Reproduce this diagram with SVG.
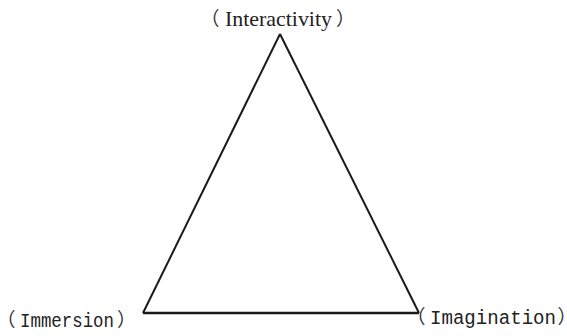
<svg xmlns="http://www.w3.org/2000/svg" width="567" height="336" viewBox="0 0 567 336">
<style>
.edge{fill:none;stroke:#1a1a1a;stroke-width:2;stroke-linejoin:miter}
text{fill:#222}
.serif{font-family:"Liberation Serif","Noto Sans CJK SC",serif;font-size:21.5px}
.mono{font-family:"Liberation Mono","Noto Sans CJK SC",monospace;font-size:20px}
.par{font-family:"Noto Sans CJK SC",sans-serif;font-size:19px;font-feature-settings:"halt";fill:#333}
</style>
<rect width="567" height="336" fill="#fff"/>
<g id="connectors">
<line class="edge" x1="280" y1="34" x2="143" y2="313"/>
<line class="edge" x1="280" y1="34" x2="419" y2="313"/>
<line class="edge" x1="143" y1="313" x2="419" y2="313" style="stroke-width:2.6"/>
</g>
<g id="interactivity"><text class="serif" y="26"><tspan class="par" x="210">（</tspan><tspan x="225" textLength="107" lengthAdjust="spacingAndGlyphs">Interactivity</tspan><tspan class="par" x="336">）</tspan></text></g>
<g id="immersion"><text class="mono" y="327"><tspan class="par" x="6">（</tspan><tspan x="20" textLength="94" lengthAdjust="spacingAndGlyphs">Immersion</tspan><tspan class="par" x="117">）</tspan></text></g>
<g id="imagination"><text class="mono" y="324"><tspan class="par" x="416">（</tspan><tspan x="430" textLength="126" lengthAdjust="spacingAndGlyphs">Imagination</tspan><tspan class="par" x="557.5">）</tspan></text></g>
</svg>
